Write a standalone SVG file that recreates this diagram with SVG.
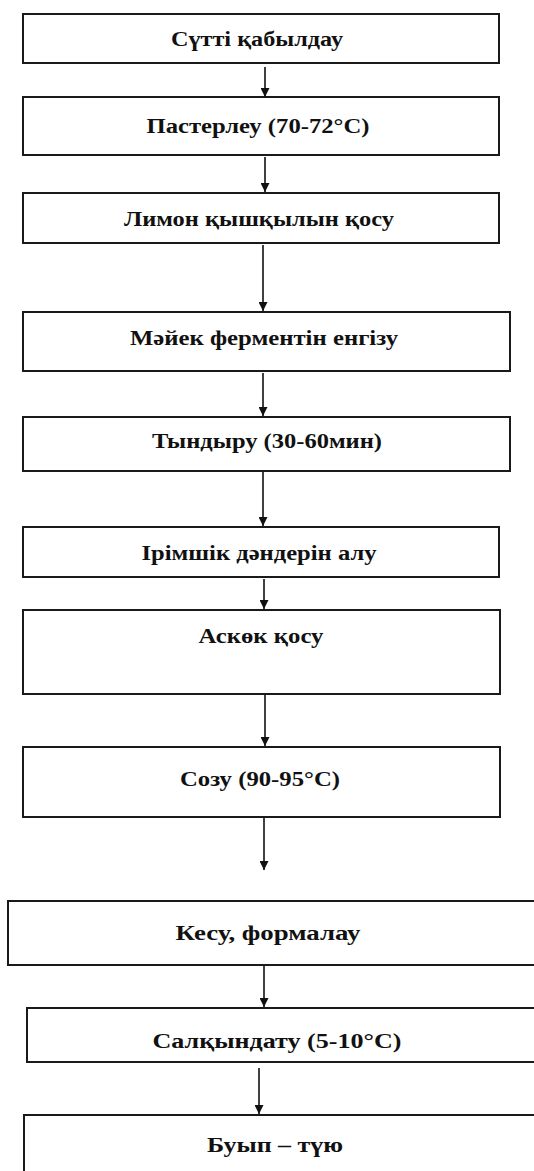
<svg xmlns="http://www.w3.org/2000/svg" width="534" height="1171" viewBox="0 0 534 1171">
<style>
.box{fill:#fff;stroke:#1a1a1a;stroke-width:2}
.lbl{font-family:"Liberation Serif","Times New Roman",serif;font-weight:bold;font-size:20px;fill:#111;text-anchor:middle}
.conn{stroke:#111;stroke-width:1.6;fill:none;marker-end:url(#ah)}
</style>
<defs>
<marker id="ah" viewBox="0 0 10 10" refX="10" refY="5" markerWidth="10" markerHeight="9" orient="auto" markerUnits="userSpaceOnUse">
<path d="M0,0 L10,5 L0,10 z" fill="#111"/>
</marker>
</defs>
<rect width="534" height="1171" fill="#fff"/>
<g id="n1"><rect class="box" x="23" y="14" width="476" height="49"/><text class="lbl" x="257" y="46" textLength="172" lengthAdjust="spacingAndGlyphs">Сүтті қабылдау</text></g>
<g id="n2"><rect class="box" x="23" y="97" width="476" height="58"/><text class="lbl" x="258" y="133" textLength="223" lengthAdjust="spacingAndGlyphs">Пастерлеу (70-72°C)</text></g>
<g id="n3"><rect class="box" x="23" y="193" width="476" height="50"/><text class="lbl" x="259" y="226" textLength="270" lengthAdjust="spacingAndGlyphs">Лимон қышқылын қосу</text></g>
<g id="n4"><rect class="box" x="23" y="312" width="487" height="59"/><text class="lbl" x="264" y="345" textLength="268" lengthAdjust="spacingAndGlyphs">Мәйек ферментін енгізу</text></g>
<g id="n5"><rect class="box" x="23" y="417" width="487" height="54"/><text class="lbl" x="267" y="448" textLength="230" lengthAdjust="spacingAndGlyphs">Тындыру (30-60мин)</text></g>
<g id="n6"><rect class="box" x="23" y="527" width="476" height="50"/><text class="lbl" x="259" y="560" textLength="235" lengthAdjust="spacingAndGlyphs">Ірімшік дәндерін алу</text></g>
<g id="n7"><rect class="box" x="23" y="610" width="477" height="84"/><text class="lbl" x="261" y="643" textLength="125" lengthAdjust="spacingAndGlyphs">Аскөк қосу</text></g>
<g id="n8"><rect class="box" x="23" y="747" width="477" height="70"/><text class="lbl" x="260" y="786" textLength="160" lengthAdjust="spacingAndGlyphs">Созу (90-95°C)</text></g>
<g id="n9"><rect class="box" x="8" y="901" width="540" height="64"/><text class="lbl" x="268" y="940" textLength="185" lengthAdjust="spacingAndGlyphs">Кесу, формалау</text></g>
<g id="n10"><rect class="box" x="27" y="1008" width="520" height="54"/><text class="lbl" x="277" y="1048" textLength="249" lengthAdjust="spacingAndGlyphs">Салқындату (5-10°C)</text></g>
<g id="n11"><rect class="box" x="24" y="1115" width="530" height="70"/><text class="lbl" x="275" y="1152" textLength="136" lengthAdjust="spacingAndGlyphs">Буып – түю</text></g>
<g id="connectors">
<line class="conn" x1="265" y1="67" x2="265" y2="97"/>
<line class="conn" x1="265" y1="157" x2="265" y2="192"/>
<line class="conn" x1="263" y1="245" x2="263" y2="311"/>
<line class="conn" x1="263" y1="373" x2="263" y2="416"/>
<line class="conn" x1="263" y1="472" x2="263" y2="526"/>
<line class="conn" x1="264" y1="579" x2="264" y2="609"/>
<line class="conn" x1="265" y1="695" x2="265" y2="746"/>
<line class="conn" x1="264" y1="818" x2="264" y2="870"/>
<line class="conn" x1="264" y1="966" x2="264" y2="1007"/>
<line class="conn" x1="259" y1="1068" x2="259" y2="1114"/>
</g>
</svg>
